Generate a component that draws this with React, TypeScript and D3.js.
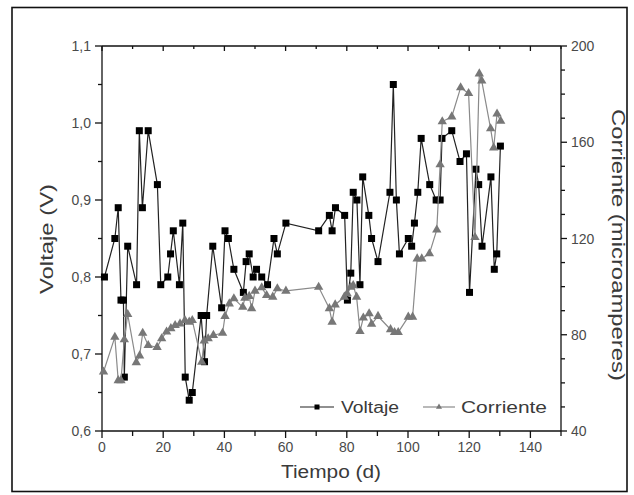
import * as d3 from 'd3';

// Tiempo (d) / Voltaje (V)
const dayV = [0.8, 4.2, 5.3, 6.2, 7.0, 7.3, 8.4, 11.3, 12.2, 13.2, 15.1, 18.1, 19.2, 21.5, 22.4, 23.3, 25.3, 26.4, 27.2, 28.5, 29.5, 32.4, 33.5, 34.2, 36.2, 39.1, 40.2, 41.3, 43.1, 46.2, 47.1, 48.1, 49.4, 50.5, 52.2, 54.1, 56.2, 57.3, 60.1, 70.8, 74.3, 75.2, 76.3, 79.3, 80.2, 81.3, 82.1, 83.3, 84.3, 85.2, 87.2, 88.1, 90.2, 94.1, 95.2, 96.2, 97.2, 100.1, 101.2, 102.1, 103.2, 104.3, 107.1, 109.2, 110.5, 111.1, 114.3, 117.0, 119.1, 120.1, 122.2, 123.1, 124.2, 127.1, 128.2, 129.0, 130.2];
const voltaje = [0.80, 0.85, 0.89, 0.77, 0.77, 0.67, 0.84, 0.79, 0.99, 0.89, 0.99, 0.92, 0.79, 0.80, 0.83, 0.86, 0.79, 0.87, 0.67, 0.64, 0.65, 0.75, 0.69, 0.75, 0.84, 0.76, 0.86, 0.85, 0.81, 0.78, 0.82, 0.83, 0.80, 0.81, 0.80, 0.79, 0.85, 0.83, 0.87, 0.86, 0.88, 0.86, 0.89, 0.88, 0.77, 0.805, 0.91, 0.90, 0.79, 0.93, 0.88, 0.85, 0.82, 0.91, 1.05, 0.90, 0.83, 0.85, 0.84, 0.87, 0.91, 0.98, 0.92, 0.90, 0.90, 0.98, 0.99, 0.95, 0.96, 0.78, 0.94, 0.92, 0.84, 0.93, 0.81, 0.83, 0.97];

// Tiempo (d) / Corriente (microamperes)
const dayI = [0.5, 4.2, 5.3, 6.2, 7.3, 8.4, 11.2, 12.3, 13.3, 15.1, 18.0, 19.5, 21.1, 22.5, 23.9, 25.5, 27.1, 28.5, 29.5, 32.6, 33.4, 34.7, 36.4, 39.4, 40.2, 41.6, 43.1, 46.0, 46.7, 48.1, 48.9, 50.0, 52.2, 53.8, 55.8, 57.3, 60.1, 70.8, 74.3, 75.2, 76.2, 79.2, 80.1, 81.3, 82.1, 83.2, 84.3, 85.4, 87.3, 88.1, 90.2, 94.3, 95.6, 96.8, 100.1, 101.5, 103.0, 104.5, 107.0, 109.4, 110.5, 111.2, 114.3, 117.2, 119.8, 121.9, 123.3, 124.1, 127.0, 128.0, 129.1, 130.3];
const corriente = [64.6, 79, 61, 61, 78, 88.5, 68.5, 71.3, 80.7, 75.6, 74.8, 78.4, 81.2, 82.6, 83.9, 84.6, 86, 85.3, 86, 68.7, 77.5, 78.4, 79.8, 80.7, 87.7, 92.9, 95, 91.5, 95.3, 96, 90.9, 98.2, 99.6, 96.4, 95.7, 99.2, 98.2, 99.8, 90.9, 85.3, 92.5, 95.7, 97.1, 99.8, 100.5, 95.7, 81.4, 87, 88.8, 84.4, 87.7, 82.2, 81, 81, 87.4, 87.4, 111.6, 111.6, 113.7, 123.6, 150.7, 168.6, 170.6, 182.7, 180.3, 120.5, 188.5, 185.5, 165.7, 157.7, 171.8, 168.8];

const xTicks = [0, 20, 40, 60, 80, 100, 120, 140];
const vTicks = [0.6, 0.7, 0.8, 0.9, 1.0, 1.1];
const iTicks = [40, 80, 120, 160, 200];

const FONT = '"Liberation Sans", Arial, Helvetica, sans-serif';
const fmtV = (d: number) => d.toFixed(1).replace('.', ',');

export default function App() {
  const x = d3.scaleLinear().domain([0, 150]).range([102, 561]);
  const yV = d3.scaleLinear().domain([0.6, 1.1]).range([431, 46]);
  const yI = d3.scaleLinear().domain([40, 200]).range([431, 46]);
  const [x0, x1] = x.range();
  const [yb, yt] = yV.range();

  const vPts = dayV.map((d, i) => [x(d), yV(voltaje[i])] as [number, number]);
  const iPts = dayI.map((d, i) => [x(d), yI(corriente[i])] as [number, number]);
  const line = d3.line();
  const tri = d3.symbol(d3.symbolTriangle, 38)() as string;
  const triSmall = d3.symbol(d3.symbolTriangle, 16)() as string;

  const xMinor = d3.range(0, 151, 10);
  const vMinor = d3.range(0.6, 1.1001, 0.05);
  const iMinor = d3.range(40, 201, 10);

  return (
    <svg width={634} height={495} style={{ position: 'absolute', left: 0, top: 0, background: '#fff' }} fontFamily={FONT}>
      <rect x={12} y={7.5} width={615} height={484} fill="none" stroke="#111" strokeWidth={1.6} />

      {/* frame axes */}
      <line x1={x0} x2={x1} y1={yb} y2={yb} stroke="#111" strokeWidth={1.3} />
      <line x1={x0} x2={x1} y1={yt} y2={yt} stroke="#111" strokeWidth={1.3} />
      <line x1={x0} x2={x0} y1={yt} y2={yb} stroke="#111" strokeWidth={1.3} />
      <line x1={x1} x2={x1} y1={yt} y2={yb} stroke="#111" strokeWidth={1.3} />

      {/* bottom + top ticks */}
      {xMinor.map(t => {
        const major = t % 20 === 0;
        return (
          <g key={'xt' + t}>
            <line x1={x(t)} x2={x(t)} y1={yb} y2={yb + (major ? 7 : 5)} stroke="#111" strokeWidth={1.3} />
            <line x1={x(t)} x2={x(t)} y1={yt} y2={yt + (major ? 5 : 3)} stroke="#111" strokeWidth={1.3} />
          </g>
        );
      })}
      {xTicks.map(t => (
        <text key={'xl' + t} x={x(t)} y={452} textAnchor="middle" fontSize={14} fill="#4a4a4a">{t}</text>
      ))}

      {/* left ticks */}
      {vMinor.map((t, i) => (
        <line key={'vt' + i} x1={x0} x2={x0 - (i % 2 === 0 ? 7 : 4)} y1={yV(t)} y2={yV(t)} stroke="#111" strokeWidth={1.3} />
      ))}
      {vTicks.map(t => (
        <text key={'vl' + t} x={91} y={yV(t) + 5} textAnchor="end" fontSize={14} fill="#4a4a4a">{fmtV(t)}</text>
      ))}

      {/* right ticks */}
      {iMinor.map(t => (
        <line key={'it' + t} x1={x1} x2={x1 + ((t - 40) % 40 === 0 ? 6 : 4)} y1={yI(t)} y2={yI(t)} stroke="#111" strokeWidth={1.3} />
      ))}
      {iTicks.map(t => (
        <text key={'il' + t} x={571} y={yI(t) + 5} textAnchor="start" fontSize={14} fill="#4a4a4a">{t}</text>
      ))}

      {/* axis titles */}
      <text x={331} y={478} textAnchor="middle" fontSize={18} fill="#3a3a3a" textLength={100} lengthAdjust="spacingAndGlyphs">Tiempo (d)</text>
      <text transform="translate(53,239) rotate(-90)" textAnchor="middle" fontSize={18} fill="#3a3a3a" textLength={110} lengthAdjust="spacingAndGlyphs">Voltaje (V)</text>
      <text transform="translate(612,245) rotate(90)" textAnchor="middle" fontSize={18} fill="#3a3a3a" textLength={272} lengthAdjust="spacingAndGlyphs">Corriente (microamperes)</text>

      {/* Voltaje series */}
      <path d={line(vPts) as string} fill="none" stroke="#222" strokeWidth={1.2} />
      {vPts.map((p, i) => (
        <rect key={'v' + i} x={p[0] - 3.5} y={p[1] - 3.5} width={7} height={7} fill="#000" />
      ))}

      {/* Corriente series */}
      <path d={line(iPts) as string} fill="none" stroke="#8a8a8a" strokeWidth={1.2} />
      {iPts.map((p, i) => (
        <path key={'c' + i} d={tri} transform={`translate(${p[0]},${p[1]})`} fill="#777" />
      ))}

      {/* legend */}
      <line x1={300} x2={334} y1={407} y2={407} stroke="#222" strokeWidth={1.2} />
      <rect x={314.5} y={404.5} width={5} height={5} fill="#000" />
      <text x={341} y={413} fontSize={16} fill="#3a3a3a" textLength={58} lengthAdjust="spacingAndGlyphs">Voltaje</text>
      <line x1={423} x2={455} y1={407} y2={407} stroke="#8a8a8a" strokeWidth={1.2} />
      <path d={triSmall} transform="translate(439,407)" fill="#777" />
      <text x={461} y={413} fontSize={16} fill="#3a3a3a" textLength={86} lengthAdjust="spacingAndGlyphs">Corriente</text>
    </svg>
  );
}
